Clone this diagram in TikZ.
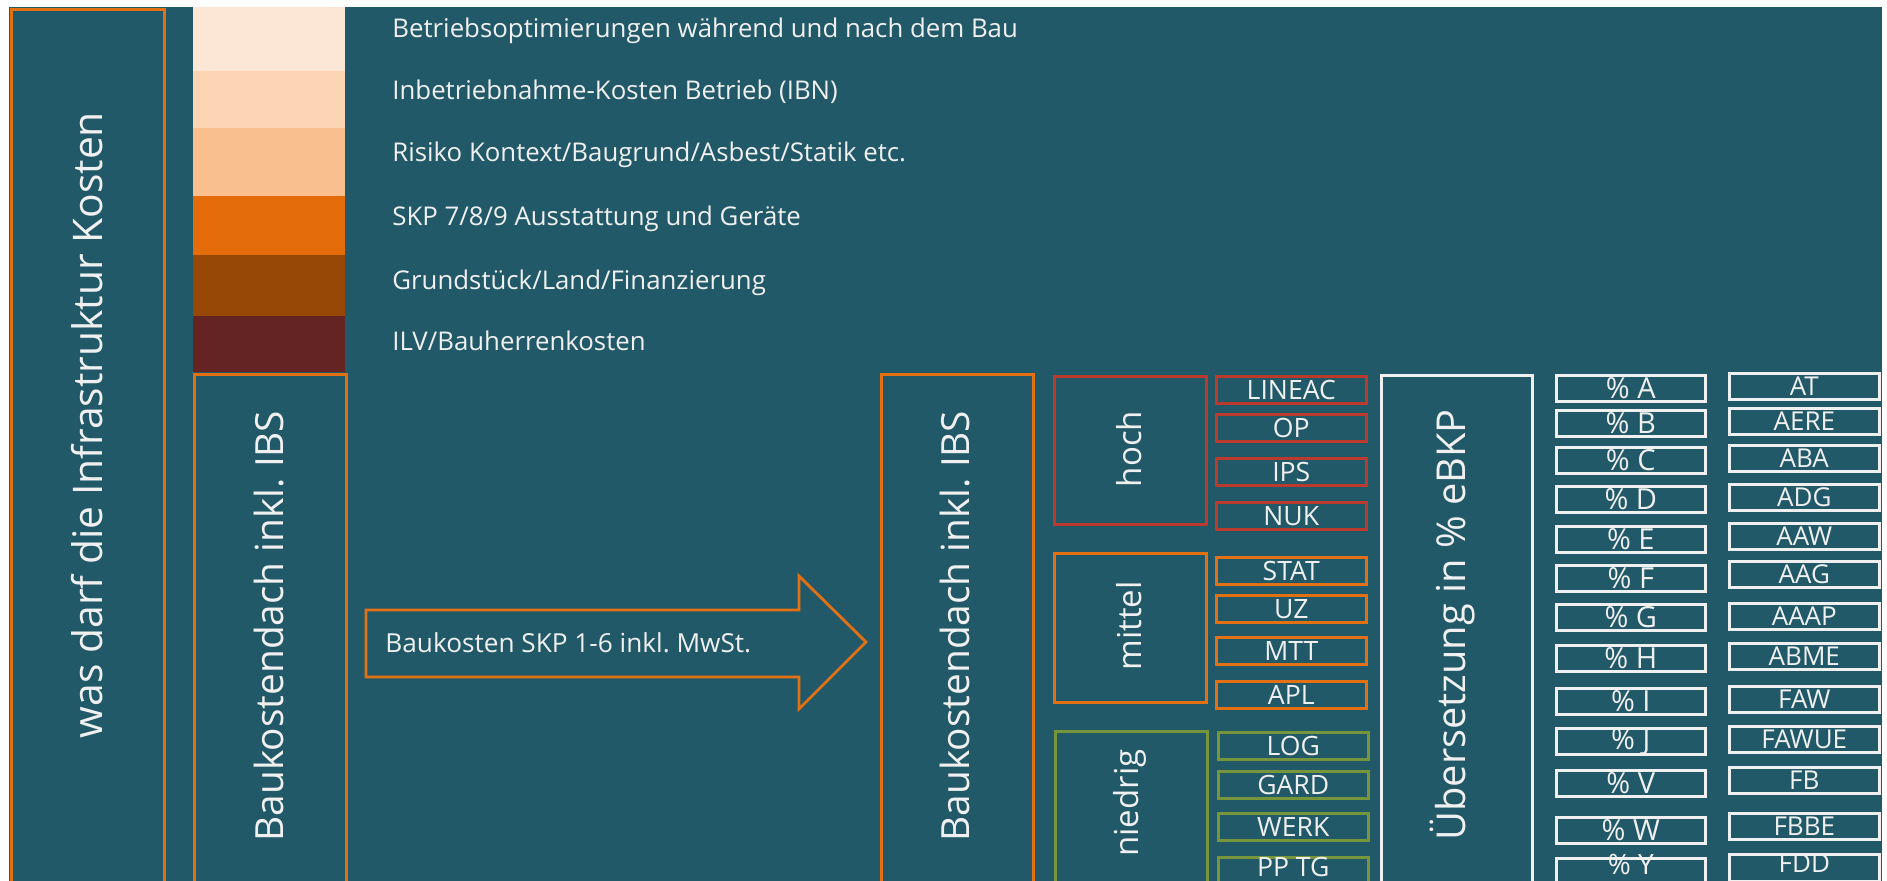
\documentclass[tikz,border=0pt]{standalone}
\usepackage{fontspec}
\setmainfont{Open Sans}
\usepackage{tikz}
\usetikzlibrary{positioning}
\usepackage{xcolor}
\definecolor{ibsteal}{RGB}{33,89,104}
\definecolor{paletext}{RGB}{240,240,240}
\definecolor{boxorange}{RGB}{228,112,20}
\definecolor{hochred}{RGB}{188,58,45}
\definecolor{niedriggreen}{RGB}{119,150,60}
\definecolor{bandA}{RGB}{252,231,214}
\definecolor{bandB}{RGB}{251,213,180}
\definecolor{bandC}{RGB}{250,191,143}
\definecolor{bandD}{RGB}{228,108,10}
\definecolor{bandE}{RGB}{151,72,6}
\definecolor{bandF}{RGB}{99,36,35}

\begin{document}
\begin{tikzpicture}[x=0.5pt,y=-0.5pt,
    costbox/.style={draw=boxorange,line width=1.4pt,rectangle,anchor=north west,inner sep=0pt},
    band/.style={rectangle,anchor=north west,inner sep=0pt,minimum width=76pt},
    vlabel/.style={rotate=90,text=paletext,inner sep=0pt},
    legendtext/.style={anchor=base west,text=paletext,inner sep=0pt,font=\fontsize{12.9}{15}\selectfont},
    unitbox/.style={draw,line width=1.3pt,rectangle,anchor=north west,minimum width=75pt,minimum height=13.5pt,inner sep=0pt,text=paletext,font=\fontsize{13.3}{14}\selectfont},
    pctbox/.style={unitbox,draw=paletext,minimum width=74.5pt,minimum height=13pt,font=\fontsize{14.5}{15}\selectfont},
    codebox/.style={unitbox,draw=paletext,minimum width=75pt,minimum height=13pt,font=\fontsize{13}{14}\selectfont},
    lastrow/.style={text depth=4pt},
    lastpct/.style={text height=8pt,text depth=5pt,font=\fontsize{14}{15}\selectfont}]
    \useasboundingbox (0,0) rectangle (1887,880);
    \clip (0,0) rectangle (1887,880);
    \fill[white] (0,0) rectangle (1887,880);
    \fill[ibsteal] (9,7) rectangle (1882,890);

    % Infrastructure frame
    \node[costbox,minimum width=76.5pt,minimum height=440pt] (infra) at (10,8) {};
    \node[vlabel,font=\fontsize{20.4}{24}\selectfont] (infratext) at (87,425) {was darf die Infrastruktur Kosten};

    % Cost bands
    \node[band,fill=bandA,minimum height=32pt] (bandbetrieb) at (193,7) {};
    \node[band,fill=bandB,minimum height=28.5pt] (bandibn) at (193,71) {};
    \node[band,fill=bandC,minimum height=34pt] (bandrisiko) at (193,128) {};
    \node[band,fill=bandD,minimum height=29.5pt] (bandskp) at (193,196) {};
    \node[band,fill=bandE,minimum height=30.5pt] (bandgrund) at (193,255) {};
    \node[band,fill=bandF,minimum height=28pt] (bandilv) at (193,316) {};

    % Band legend
    \node[legendtext] (lgbetrieb) at (392,37) {Betriebsoptimierungen während und nach dem Bau};
    \node[legendtext] (lgibn) at (392,99) {Inbetriebnahme-Kosten Betrieb (IBN)};
    \node[legendtext] (lgrisiko) at (392,161) {Risiko Kontext/Baugrund/Asbest/Statik etc.};
    \node[legendtext] (lgskp) at (392,225) {SKP 7/8/9 Ausstattung und Geräte};
    \node[legendtext] (lggrund) at (392,289) {Grundstück/Land/Finanzierung};
    \node[legendtext] (lgilv) at (392,350) {ILV/Bauherrenkosten};

    % Building cost roof
    \node[costbox,minimum width=76pt,minimum height=257pt] (roofleft) at (193,373) {};
    \node[vlabel,font=\fontsize{19.4}{24}\selectfont] (roofleftext) at (269,626) {Baukostendach inkl.\ IBS};

    % Arrow SKP 1-6
    \draw[draw=boxorange,line width=1.4pt,line join=miter] (366,610) -- (799,610) -- (799,576) -- (866,642) -- (799,709) -- (799,677) -- (366,677) -- cycle;
    \node[legendtext,font=\fontsize{13.1}{15}\selectfont] (skptext) at (385,652) {Baukosten SKP 1-6 inkl.\ MwSt.};

    \node[costbox,minimum width=76pt,minimum height=257pt] (roofright) at (880,373) {};
    \node[vlabel,font=\fontsize{19.4}{24}\selectfont] (roofrighttext) at (955,626) {Baukostendach inkl.\ IBS};

    % Levels
    \node[costbox,draw=hochred,minimum width=76pt,minimum height=74pt] (hoch) at (1053,375) {};
    \node[vlabel,font=\fontsize{16.5}{20}\selectfont] (hochtext) at (1129,449) {hoch};
    \node[costbox,minimum width=76pt,minimum height=74.5pt] (mittel) at (1053,552) {};
    \node[vlabel,font=\fontsize{16.5}{20}\selectfont] (mitteltext) at (1129,626) {mittel};
    \node[costbox,draw=niedriggreen,minimum width=76pt,minimum height=80pt] (niedrig) at (1054,730) {};
    \node[vlabel,font=\fontsize{16.5}{20}\selectfont] (niedrigtext) at (1130,803) {niedrig};

    % Units per level
    \node[unitbox,draw=hochred] (lineac) at (1215,375) {LINEAC};
    \node[unitbox,draw=hochred] (op) at (1215,413) {OP};
    \node[unitbox,draw=hochred] (ips) at (1215,457) {IPS};
    \node[unitbox,draw=hochred] (nuk) at (1215,501) {NUK};
    \node[unitbox,draw=boxorange] (stat) at (1215,556) {STAT};
    \node[unitbox,draw=boxorange] (uz) at (1215,594) {UZ};
    \node[unitbox,draw=boxorange] (mtt) at (1215,636) {MTT};
    \node[unitbox,draw=boxorange] (apl) at (1215,680) {APL};
    \node[unitbox,draw=niedriggreen] (log) at (1217,731) {LOG};
    \node[unitbox,draw=niedriggreen] (gard) at (1217,770) {GARD};
    \node[unitbox,draw=niedriggreen] (werk) at (1217,812) {WERK};
    \node[unitbox,draw=niedriggreen,lastrow] (pptg) at (1217,856) {PP TG};

    % Translation into eBKP
    \node[costbox,draw=paletext,minimum width=75.5pt,minimum height=257pt] (uebers) at (1380,374) {};
    \node[vlabel,font=\fontsize{19.9}{24}\selectfont] (uebertext) at (1452,625) {Übersetzung in \% eBKP};

    % Percent shares
    \node[pctbox] (pcta) at (1555,374) {\% A};
    \node[pctbox] (pctb) at (1555,409) {\% B};
    \node[pctbox] (pctc) at (1555,446) {\% C};
    \node[pctbox] (pctd) at (1555,485) {\% D};
    \node[pctbox] (pcte) at (1555,525) {\% E};
    \node[pctbox] (pctf) at (1555,564) {\% F};
    \node[pctbox] (pctg) at (1555,603) {\% G};
    \node[pctbox] (pcth) at (1555,644) {\% H};
    \node[pctbox] (pcti) at (1555,687) {\% I};
    \node[pctbox] (pctj) at (1555,727) {\% J};
    \node[pctbox] (pctv) at (1555,769) {\% V};
    \node[pctbox] (pctw) at (1555,816) {\% W};
    \node[pctbox,lastpct] (pcty) at (1555,857) {\% Y};

    % eBKP codes
    \node[codebox] (at) at (1728,372) {AT};
    \node[codebox] (aere) at (1728,407) {AERE};
    \node[codebox] (aba) at (1728,444) {ABA};
    \node[codebox] (adg) at (1728,483) {ADG};
    \node[codebox] (aaw) at (1728,522) {AAW};
    \node[codebox] (aag) at (1728,560) {AAG};
    \node[codebox] (aaap) at (1728,602) {AAAP};
    \node[codebox] (abme) at (1728,642) {ABME};
    \node[codebox] (faw) at (1728,685) {FAW};
    \node[codebox] (fawue) at (1728,725) {FAWUE};
    \node[codebox] (fb) at (1728,766) {FB};
    \node[codebox] (fbbe) at (1728,812) {FBBE};
    \node[codebox,lastrow] (fdd) at (1728,853) {FDD};
\end{tikzpicture}
\end{document}
